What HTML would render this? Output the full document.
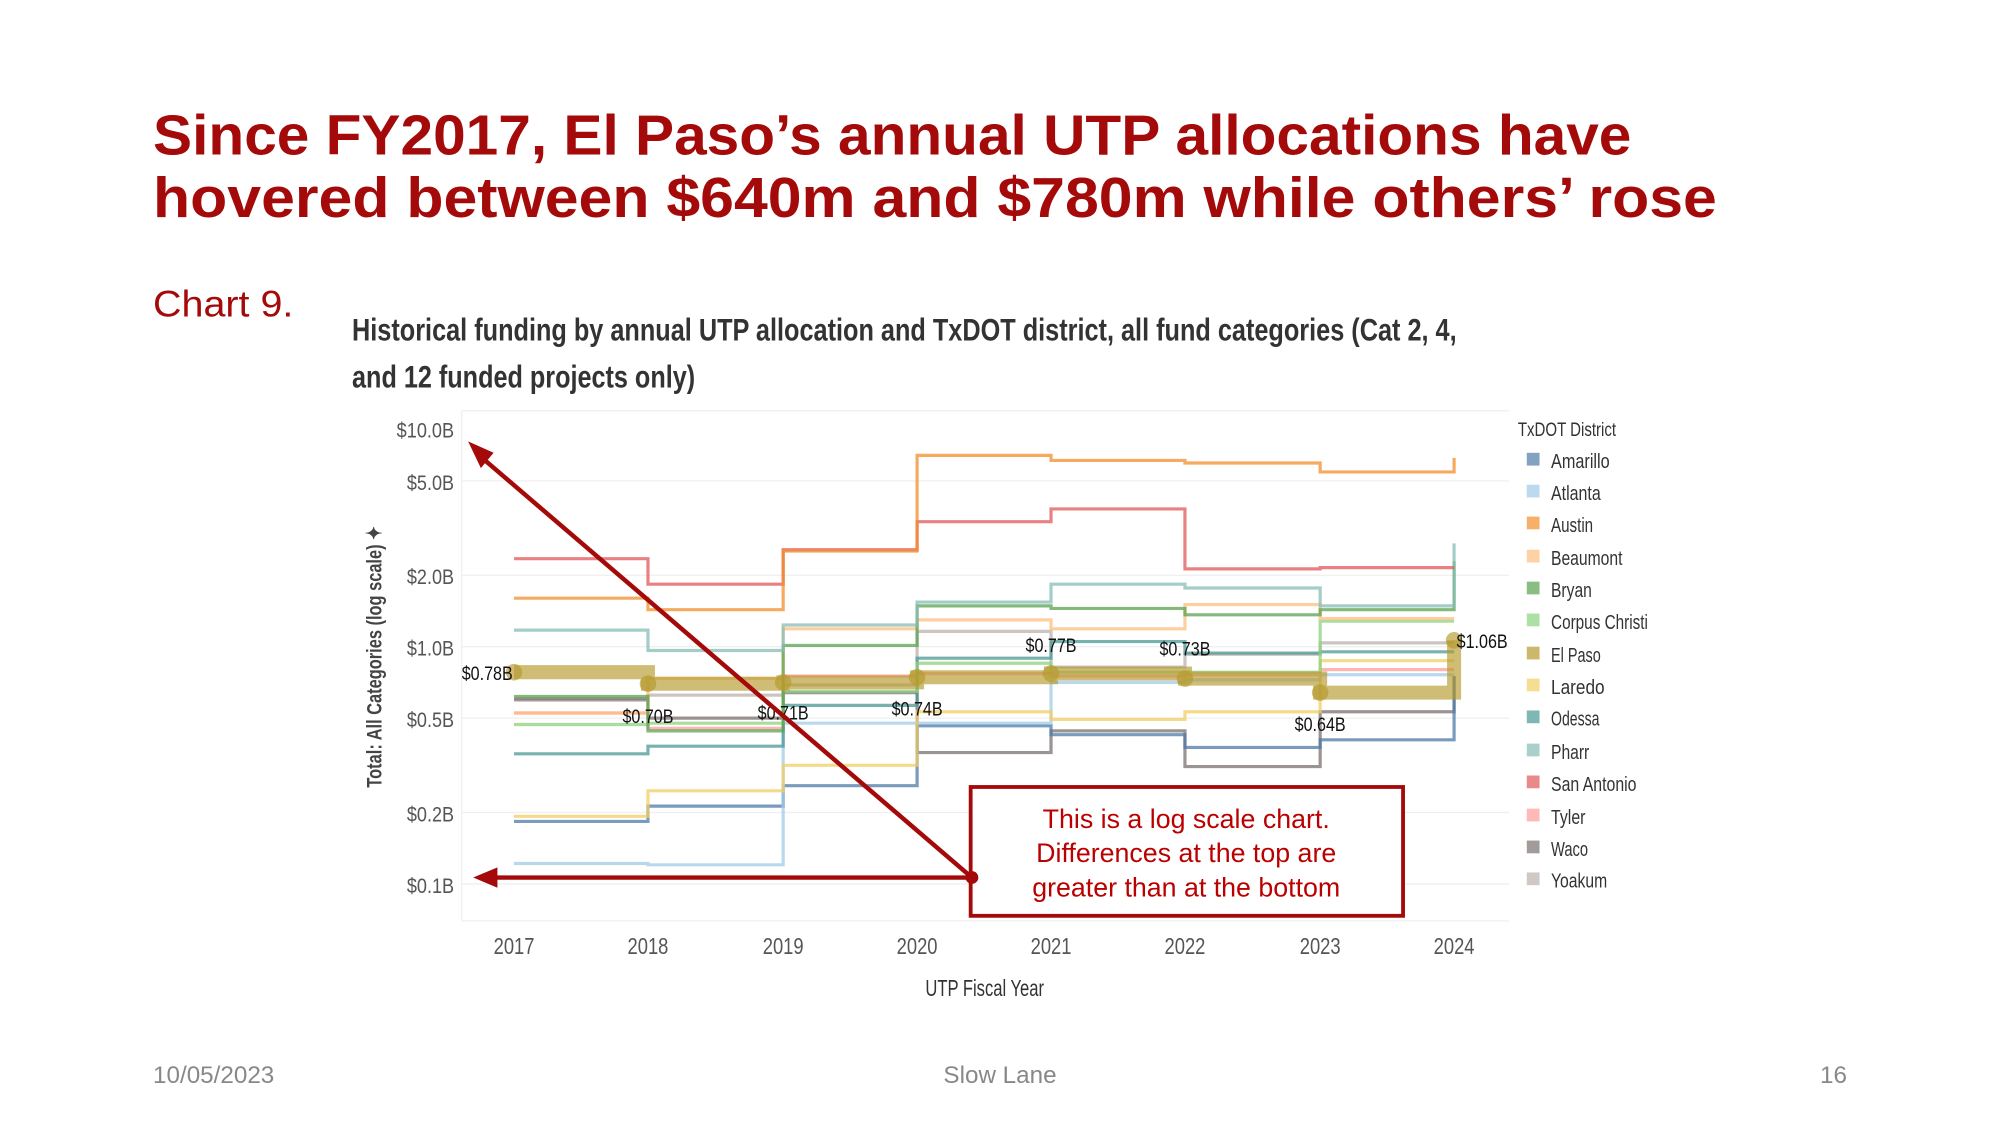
<!DOCTYPE html>
<html><head><meta charset="utf-8"><style>
html,body{margin:0;padding:0;background:#fff;}
svg{display:block;}
.c{font-family:"Liberation Sans Narrow","Liberation Sans",sans-serif;}
</style></head><body>
<svg width="2000" height="1125" viewBox="0 0 1568 882" xmlns="http://www.w3.org/2000/svg">
<rect width="1568" height="882" fill="#fff"/>
<g font-family="Liberation Sans, sans-serif" font-weight="bold" fill="#a50a0a" font-size="44">
<text x="120" y="121" textLength="1159" lengthAdjust="spacingAndGlyphs">Since FY2017, El Paso’s annual UTP allocations have</text>
<text x="120" y="170" textLength="1226" lengthAdjust="spacingAndGlyphs">hovered between $640m and $780m while others’ rose</text>
</g>
<text x="120" y="248" font-family="Liberation Sans, sans-serif" font-size="29" fill="#a50a0a" textLength="110" lengthAdjust="spacingAndGlyphs">Chart 9.</text>
<g class="c" font-weight="bold" fill="#333" font-size="25">
<text x="276" y="267" textLength="866" lengthAdjust="spacingAndGlyphs">Historical funding by annual UTP allocation and TxDOT district, all fund categories (Cat 2, 4,</text>
<text x="276" y="304" textLength="269" lengthAdjust="spacingAndGlyphs">and 12 funded projects only)</text>
</g>
<g stroke="#efefef" stroke-width="1">
<line x1="362" y1="322" x2="1183" y2="322"/>
<line x1="362" y1="377" x2="1183" y2="377"/>
<line x1="362" y1="451" x2="1183" y2="451"/>
<line x1="362" y1="507" x2="1183" y2="507"/>
<line x1="362" y1="563" x2="1183" y2="563"/>
<line x1="362" y1="637" x2="1183" y2="637"/>
<line x1="362" y1="693" x2="1183" y2="693"/>
<line x1="362" y1="722" x2="1183" y2="722"/>
<line x1="362" y1="322" x2="362" y2="722"/>
</g>
<g class="c" font-size="17" fill="#555" text-anchor="end">
<text x="356" y="343" textLength="45" lengthAdjust="spacingAndGlyphs">$10.0B</text>
<text x="356" y="384" textLength="37" lengthAdjust="spacingAndGlyphs">$5.0B</text>
<text x="356" y="458" textLength="37" lengthAdjust="spacingAndGlyphs">$2.0B</text>
<text x="356" y="514" textLength="37" lengthAdjust="spacingAndGlyphs">$1.0B</text>
<text x="356" y="570" textLength="37" lengthAdjust="spacingAndGlyphs">$0.5B</text>
<text x="356" y="644" textLength="37" lengthAdjust="spacingAndGlyphs">$0.2B</text>
<text x="356" y="700" textLength="37" lengthAdjust="spacingAndGlyphs">$0.1B</text>
</g>
<text class="c" transform="translate(299,515) rotate(-90)" text-anchor="middle" font-size="17" fill="#444" font-weight="bold" textLength="205" lengthAdjust="spacingAndGlyphs">Total: All Categories (log scale) ✦</text>
<g class="c" font-size="18" fill="#555" text-anchor="middle">
<text x="403" y="748" textLength="32" lengthAdjust="spacingAndGlyphs">2017</text>
<text x="508" y="748" textLength="32" lengthAdjust="spacingAndGlyphs">2018</text>
<text x="614" y="748" textLength="32" lengthAdjust="spacingAndGlyphs">2019</text>
<text x="719" y="748" textLength="32" lengthAdjust="spacingAndGlyphs">2020</text>
<text x="824" y="748" textLength="32" lengthAdjust="spacingAndGlyphs">2021</text>
<text x="929" y="748" textLength="32" lengthAdjust="spacingAndGlyphs">2022</text>
<text x="1035" y="748" textLength="32" lengthAdjust="spacingAndGlyphs">2023</text>
<text x="1140" y="748" textLength="32" lengthAdjust="spacingAndGlyphs">2024</text>
</g>
<text class="c" x="772" y="781" text-anchor="middle" font-size="18" fill="#333" textLength="93" lengthAdjust="spacingAndGlyphs">UTP Fiscal Year</text>
<g fill="none" stroke-width="2.5" stroke-opacity="0.75">
<path stroke="#bab0ac" d="M403 549H508V545H614V537H719V495H824V523H929V513H1035V504H1140"/>
<path stroke="#ff9d9a" d="M403 559H508V571H614V530H719V528H824V530H929V529H1035V525H1140"/>
<path stroke="#79706e" d="M403 548H508V563H614V543H719V590H824V573H929V601H1035V558H1140V530"/>
<path stroke="#4e79a7" d="M403 644H508V632H614V616H719V569H824V576H929V586H1035V580H1140V530"/>
<path stroke="#a0cbe8" d="M403 677H508V678H614V567H719V567H824V535H929V533H1035V529H1140"/>
<path stroke="#f1ce63" d="M403 640H508V620H614V600H719V558H824V564H929V558H1035V518H1140"/>
<path stroke="#499894" d="M403 591H508V585H614V553H719V516H824V503H929V512H1035V511H1140"/>
<path stroke="#8cd17d" d="M403 568H508V567H614V542H719V520H824V527H929V527H1035V487H1140"/>
<path stroke="#ffbe7d" d="M403 559H508V532H614V493H719V486H824V493H929V474H1035V485H1140"/>
<path stroke="#59a14f" d="M403 546H508V573H614V506H719V475H824V477H929V482H1035V478H1140V440"/>
<path stroke="#86bcb6" d="M403 494H508V510H614V490H719V472H824V458H929V461H1035V475H1140V426"/>
<path stroke="#e15759" d="M403 438H508V458H614V431H719V409H824V399H929V446H1035V445H1140"/>
<path stroke="#f28e2b" d="M403 469H508V478H614V432H719V357H824V361H929V363H1035V370H1140V359"/>
</g>
<g stroke="#b6992d" stroke-opacity="0.65" fill="#b6992d" fill-opacity="0.65">
<path fill="none" stroke-width="11" d="M403 527H508V536H614V535H719V531H824V528H929V532H1035V543H1140V502"/>
<circle cx="403" cy="527" r="6.5" stroke="none"/><circle cx="508" cy="536" r="6.5" stroke="none"/>
<circle cx="614" cy="535" r="6.5" stroke="none"/><circle cx="719" cy="531" r="6.5" stroke="none"/>
<circle cx="824" cy="528" r="6.5" stroke="none"/><circle cx="929" cy="532" r="6.5" stroke="none"/>
<circle cx="1035" cy="543" r="6.5" stroke="none"/><circle cx="1140" cy="502" r="6.5" stroke="none"/>
</g>
<g class="c" font-size="15" fill="#111" text-anchor="middle">
<text x="382" y="533" textLength="40" lengthAdjust="spacingAndGlyphs">$0.78B</text>
<text x="508" y="567" textLength="40" lengthAdjust="spacingAndGlyphs">$0.70B</text>
<text x="614" y="564" textLength="40" lengthAdjust="spacingAndGlyphs">$0.71B</text>
<text x="719" y="561" textLength="40" lengthAdjust="spacingAndGlyphs">$0.74B</text>
<text x="824" y="511" textLength="40" lengthAdjust="spacingAndGlyphs">$0.77B</text>
<text x="929" y="514" textLength="40" lengthAdjust="spacingAndGlyphs">$0.73B</text>
<text x="1035" y="573" textLength="40" lengthAdjust="spacingAndGlyphs">$0.64B</text>
<text x="1162" y="508" textLength="40" lengthAdjust="spacingAndGlyphs">$1.06B</text>
</g>
<text class="c" x="1190" y="342" font-size="15" fill="#333" textLength="77" lengthAdjust="spacingAndGlyphs">TxDOT District</text>
<g class="c" font-size="16" fill="#333">
<rect x="1197" y="355" width="10" height="10" fill="#4e79a7" opacity=".7"/><text x="1216" y="367" textLength="46" lengthAdjust="spacingAndGlyphs">Amarillo</text>
<rect x="1197" y="380" width="10" height="10" fill="#a0cbe8" opacity=".7"/><text x="1216" y="392" textLength="39" lengthAdjust="spacingAndGlyphs">Atlanta</text>
<rect x="1197" y="405" width="10" height="10" fill="#f28e2b" opacity=".7"/><text x="1216" y="417" textLength="33" lengthAdjust="spacingAndGlyphs">Austin</text>
<rect x="1197" y="431" width="10" height="10" fill="#ffbe7d" opacity=".7"/><text x="1216" y="443" textLength="56" lengthAdjust="spacingAndGlyphs">Beaumont</text>
<rect x="1197" y="456" width="10" height="10" fill="#59a14f" opacity=".7"/><text x="1216" y="468" textLength="32" lengthAdjust="spacingAndGlyphs">Bryan</text>
<rect x="1197" y="481" width="10" height="10" fill="#8cd17d" opacity=".7"/><text x="1216" y="493" textLength="76" lengthAdjust="spacingAndGlyphs">Corpus Christi</text>
<rect x="1197" y="507" width="10" height="10" fill="#b6992d" opacity=".7"/><text x="1216" y="519" textLength="39" lengthAdjust="spacingAndGlyphs">El Paso</text>
<rect x="1197" y="532" width="10" height="10" fill="#f1ce63" opacity=".7"/><text x="1216" y="544" textLength="42" lengthAdjust="spacingAndGlyphs">Laredo</text>
<rect x="1197" y="557" width="10" height="10" fill="#499894" opacity=".7"/><text x="1216" y="569" textLength="38" lengthAdjust="spacingAndGlyphs">Odessa</text>
<rect x="1197" y="583" width="10" height="10" fill="#86bcb6" opacity=".7"/><text x="1216" y="595" textLength="30" lengthAdjust="spacingAndGlyphs">Pharr</text>
<rect x="1197" y="608" width="10" height="10" fill="#e15759" opacity=".7"/><text x="1216" y="620" textLength="67" lengthAdjust="spacingAndGlyphs">San Antonio</text>
<rect x="1197" y="634" width="10" height="10" fill="#ff9d9a" opacity=".7"/><text x="1216" y="646" textLength="27" lengthAdjust="spacingAndGlyphs">Tyler</text>
<rect x="1197" y="659" width="10" height="10" fill="#79706e" opacity=".7"/><text x="1216" y="671" textLength="29" lengthAdjust="spacingAndGlyphs">Waco</text>
<rect x="1197" y="684" width="10" height="10" fill="#bab0ac" opacity=".7"/><text x="1216" y="696" textLength="44" lengthAdjust="spacingAndGlyphs">Yoakum</text>
</g>
<rect x="761" y="617" width="339" height="101" fill="#fff" stroke="#a50a0a" stroke-width="3"/>
<g font-family="Liberation Sans, sans-serif" font-size="21" fill="#b00" text-anchor="middle">
<text x="930" y="649">This is a log scale chart.</text>
<text x="930" y="676">Differences at the top are</text>
<text x="930" y="703">greater than at the bottom</text>
</g>
<g stroke="#a50a0a" stroke-width="3.5" fill="#a50a0a">
<line x1="762" y1="688" x2="386" y2="688"/>
<line x1="762" y1="688" x2="378" y2="359"/>
</g>
<circle cx="762" cy="688" r="5" fill="#a50a0a"/>
<polygon points="371,688 390,680 390,696" fill="#a50a0a"/>
<polygon points="367,346 387,355 377,367" fill="#a50a0a"/>
<g font-family="Liberation Sans, sans-serif" font-size="19" fill="#888">
<text x="120" y="849">10/05/2023</text>
<text x="784" y="849" text-anchor="middle">Slow Lane</text>
<text x="1448" y="849" text-anchor="end">16</text>
</g>
</svg>
</body></html>
